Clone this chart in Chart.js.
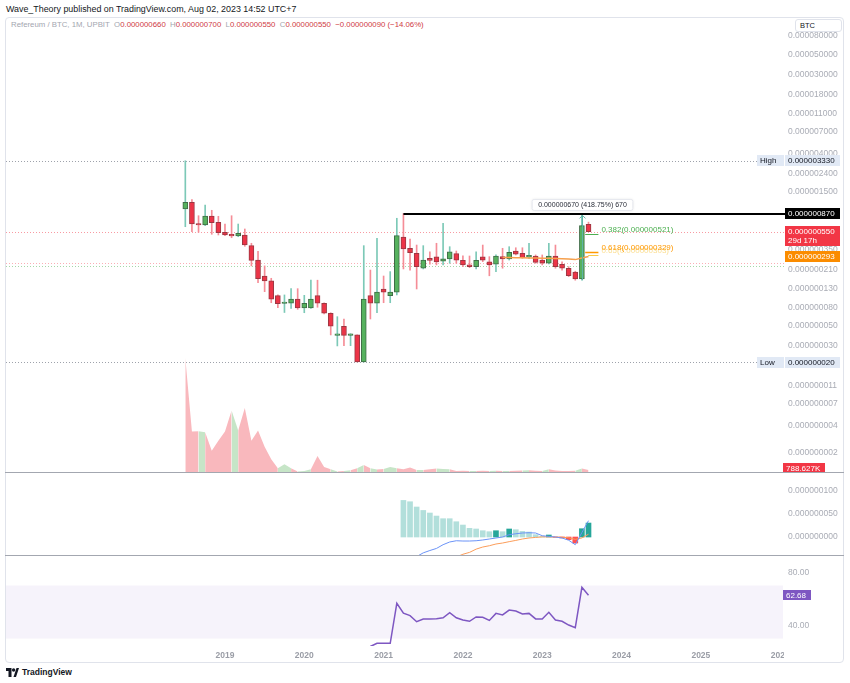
<!DOCTYPE html>
<html>
<head>
<meta charset="utf-8">
<title>Refereum / BTC, 1M</title>
<script src="https://cdn.jsdelivr.net/npm/chart.js@4.4.0/dist/chart.umd.min.js"></script>
<style>
  body { margin: 0; background: #fff; font-family: "Liberation Sans", Arial, sans-serif; }
  #wrap { position: relative; width: 850px; height: 683px; overflow: hidden; }
  #frame { position: absolute; left: 5px; top: 17px; width: 839px; height: 646px; border: 1px solid #e0e3eb; border-radius: 4px; box-sizing: border-box; }
  canvas { position: absolute; left: 0; }
  .sep { position: absolute; left: 5px; width: 839px; height: 1px; background: #a3a7b0; }
  #author { position: absolute; left: 6px; top: 4px; font-size: 8.9px; color: #131722; white-space: nowrap; }
  #legend { position: absolute; left: 11px; top: 20px; font-size: 7.8px; color: #a3a6af; white-space: nowrap; }
  #legend b { font-weight: normal; color: #cf3b44; }
  #unit { position: absolute; left: 795px; top: 19px; width: 47px; height: 13px; border: 1px solid #e0e3eb; border-radius: 3px; box-sizing: border-box; background: #fff; font-size: 7.5px; line-height: 11px; padding-left: 4px; color: #131722; }
  #brand { position: absolute; left: 6px; top: 667px; font-size: 8.5px; font-weight: bold; color: #131722; display: flex; align-items: center; gap: 3px; }
</style>
</head>
<body>
<div id="wrap">
  <div id="frame"></div>
  <div id="author">Wave_Theory published on TradingView.com, Aug 02, 2023 14:52 UTC+7</div>
  <div id="legend"></div>
  <canvas id="main" width="850" height="455" style="top:17px"></canvas>
  <canvas id="macd" width="850" height="83" style="top:472px"></canvas>
  <canvas id="rsi" width="850" height="107" style="top:555px"></canvas>
  <div class="sep" style="top:472px"></div>
  <div class="sep" style="top:555px"></div>
  <div id="unit">BTC</div>
  <div id="brand"><svg width="13" height="9" viewBox="0 0 13 9"><path d="M0 0h5.5v9H2.5V3H0z" fill="#131722"/><circle cx="7.6" cy="2" r="1.7" fill="#131722"/><path d="M7.5 9l3-9h2.5l-3 9z" fill="#131722"/></svg>TradingView</div>
</div>
<script>
// monthly candles Jul 2018 .. Aug 2023, prices in 1e-9 BTC
const opens = [977, 1159, 667, 651, 818, 697, 541, 514, 492, 505, 385, 267, 178, 157, 108, 88.5, 89, 99.2, 79, 79,
  108, 89, 69, 39.4, 49.6, 39.4, 39.8, 20, 108, 89, 128, 108, 118, 480, 360, 317, 217, 279, 289, 259,
  274, 314, 265, 237, 226, 289, 256, 240, 291, 274, 336, 317, 289, 296, 267, 246, 296, 240, 217, 197, 165, 660];
const highs = [3330, 1238, 824, 1082, 946, 812, 667, 824, 667, 588, 409, 334, 230, 168, 110, 110, 129, 129, 109, 160,
  160, 90.3, 70, 63.3, 59.7, 41, 40, 385, 207, 464, 178, 199, 772, 870, 456, 391, 385, 330, 409, 680,
  375, 336, 298, 296, 330, 391, 291, 304, 360, 375, 365, 365, 409, 304, 304, 409, 391, 256, 226, 201, 830, 700];
const lows = [623, 549, 541, 639, 514, 505, 496, 471, 483, 379, 230, 150, 119.5, 90.3, 79.6, 70.4, 78.3, 76.4, 70, 78,
  80.4, 67.8, 39.8, 30.1, 30.3, 30.3, 20, 20, 59.7, 70, 90.3, 90.3, 110, 213, 207, 128, 213, 240, 236, 236,
  246, 246, 226, 220, 213, 256, 179, 199, 217, 267, 304, 279, 279, 246, 236, 242, 217, 207, 175, 160, 160, 550];
const closes = [1159, 667, 651, 818, 690, 535, 505, 492, 527, 391, 265, 166, 157, 98.5, 88.1, 89.7, 99.2, 79, 89, 99.2,
  89, 69, 49.6, 39.9, 39.4, 39.8, 20, 99.2, 89, 118, 118, 118, 496, 354, 322, 226, 267, 265, 254, 276,
  330, 267, 236, 226, 265, 267, 236, 296, 274, 325, 311, 284, 296, 252, 246, 296, 226, 217, 179, 165, 640, 550];
// volume, thousands
const volumes = [45600, 16160, 16280, 15880, 8480, 12520, 16160, 24600, 16560, 25560, 12520, 16560, 10080, 5120, 1480, 3080, 1480, 200, 400, 1080,
  6440, 2000, 1080, 200, 400, 680, 1480, 2800, 1480, 960, 1200, 2000, 1480, 1080, 1760, 800, 800, 1080, 1360, 1200,
  1080, 400, 480, 400, 400, 520, 400, 480, 400, 400, 520, 600, 720, 480, 400, 1080, 600, 400, 400, 480, 1360, 788.627];

const maStart = 48;
const ma50 = [285, 284, 283, 283, 282, 281, 280, 279, 278, 276, 274, 270, 282, 293];

const macdStart = 33;
const macdLine = [-70, -55, -42, -34, -29, -24.5, -16.5, -10.7, -8, -8.6, -8.6, -8, -6.4, -4.3, -2.1, 0, 4.9, 7, 8.6, 9.2,
  8.6, 2.8, 1.3, 0, -2.1, -6.9, -16.5, 9.5, 35];
const macdSignal = [-148, -130, -106, -91, -80, -70, -56, -50, -43, -37, -33, -26, -21.5, -18.7, -15, -12.9, -10, -7.3, -4.3, -2.1,
  -0.9, 0.2, 0.2, 0, -0.4, -1.6, -5, -2, 6];
const macdHist = [78.5, 75.7, 64.4, 57, 51.5, 45, 39.3, 39.3, 32.8, 25.7, 18.6, 17.2, 13.5, 11.4, 13.5, 11.4, 17.2, 15.7, 12.1, 10.7,
  5, 1.4, 4.3, -0.7, -2, -5.7, -12.9, 17.8, 30];

const rsiStart = 27;
const rsi14 = [20, 24, 26.4, 26.4, 26.4, 56.6, 49.1, 47.3, 42.7, 44.8, 44.8, 45, 45.7, 49.5, 45.7, 44, 43, 46.3, 46, 43.7,
  49, 47.8, 51.5, 50.8, 48.5, 49, 44.8, 44.8, 49.8, 44, 43, 40.2, 38.2, 68.7, 62.68];

const priceTicks = [80000, 50000, 30000, 18000, 11000, 7000, 4000, 2400, 1500, 350, 210, 130, 80, 50, 30, 11, 7, 4, 2];
const macdTicks = [0, 50, 100];
const rsiTicks = [40, 80];
const years = [2019, 2020, 2021, 2022, 2023, 2024, 2025, 2026];

const highLevel = 3330, lowLevel = 20, lastLevel = 550, topLevel = 870, pinkLevel = 246, greenLevel = 228;
const fibNames = ['0.382', '0.618', '0.65'];
const fibPrices = [521, 329, 303];
const measureFrom = 160, measureTo = 830;

const N = opens.length;
const last = N - 1;
const xMin = -27.13, xMax = 90.73;
const FONT = '"Liberation Sans", Arial, sans-serif';
Chart.defaults.font.family = FONT;

const isUp = i => closes[i] >= opens[i];
const nano = v => (v * 1e-9).toFixed(9);

// legend line
const chg = closes[last] - closes[last - 1];
document.getElementById('legend').innerHTML =
  'Refereum / BTC, 1M, UPBIT&nbsp;&nbsp;O<b>' + nano(opens[last]) + '</b>&nbsp; H<b>' + nano(highs[last]) +
  '</b>&nbsp; L<b>' + nano(lows[last]) + '</b>&nbsp; C<b>' + nano(closes[last]) + '</b>&nbsp; <b>\u2212' +
  nano(Math.abs(chg)) + ' (\u2212' + (Math.abs(chg) / closes[last - 1] * 100).toFixed(2) + '%)</b>';

function hline(ctx, x1, x2, y, color, dash, w) {
  ctx.save();
  ctx.strokeStyle = color;
  ctx.lineWidth = w || 1;
  ctx.setLineDash(dash || []);
  ctx.beginPath();
  ctx.moveTo(x1, y);
  ctx.lineTo(x2, y);
  ctx.stroke();
  ctx.restore();
}

function tag(ctx, x, w, yc, h, bg, lines, fg) {
  ctx.save();
  ctx.fillStyle = bg;
  ctx.fillRect(x, Math.round(yc - h / 2), w, h);
  ctx.fillStyle = fg;
  ctx.font = '8px ' + FONT;
  ctx.textBaseline = 'middle';
  ctx.textAlign = 'left';
  lines.forEach((t, k) => ctx.fillText(t, x + 3, Math.round(yc - h / 2) + 5.5 + k * 9));
  ctx.restore();
}

const px = v => Math.round(v) + 0.5;

const xAxis = {
  type: 'linear', min: xMin, max: xMax, bounds: 'data', offset: false, display: false,
  grid: { display: false, offset: false }
};

function rightAxis(extra) {
  return Object.assign({
    position: 'right', bounds: 'data',
    grid: { display: false, drawTicks: false },
    border: { display: false },
    afterFit: s => { s.width = 65; s.paddingTop = 0; s.paddingBottom = 0; },
  }, extra);
}

const baseOpts = {
  responsive: false, animation: false, devicePixelRatio: 1, events: [],
  layout: { padding: { left: 6, right: 0, top: 0, bottom: 0 } },
  plugins: { legend: { display: false }, tooltip: { enabled: false } }
};

// main pane overlays
const mainOverlay = {
  id: 'mainOverlay',
  beforeDatasetsDraw(chart) {
    const { ctx, chartArea: a, scales: { y } } = chart;
    hline(ctx, a.left, 757, px(y.getPixelForValue(highLevel)), '#9ea2ab', [1, 2]);
    hline(ctx, a.left, 757, px(y.getPixelForValue(lowLevel)), '#9ea2ab', [1, 2]);
    hline(ctx, a.left, a.right, px(y.getPixelForValue(lastLevel)), 'rgba(242,54,69,0.5)', [1, 2]);
    hline(ctx, a.left, a.right, px(y.getPixelForValue(pinkLevel)), 'rgba(242,54,69,0.4)', [1, 2]);
    hline(ctx, a.left, a.right, px(y.getPixelForValue(greenLevel)), 'rgba(76,175,80,0.5)', [1, 2]);
  },
  afterDatasetsDraw(chart) {
    const { ctx, chartArea: a, scales: { x, y } } = chart;
    // resistance line
    hline(ctx, x.getPixelForValue(33), a.right, Math.round(y.getPixelForValue(topLevel)), '#000', [], 2);
    // fib levels
    const fibColors = ['#4caf50', '#ff9800', '#f9c846'];
    const x1 = x.getPixelForValue(last - 0.5), x2 = x.getPixelForValue(last + 1.5);
    ctx.save();
    ctx.font = '8px ' + FONT;
    ctx.textBaseline = 'bottom';
    [2, 1, 0].forEach(k => {
      const yy = px(y.getPixelForValue(fibPrices[k]));
      hline(ctx, k === 2 ? x1 + 3 : x1, x2, yy, fibColors[k], [], k === 1 ? 1.5 : 1);
      ctx.fillStyle = k === 2 ? 'rgba(249,200,70,0.6)' : fibColors[k];
      ctx.fillText(fibNames[k] + '(' + nano(fibPrices[k]) + ')', x2 + 3, yy - 1);
    });
    ctx.restore();
    // measure arrow
    const mx = px(x.getPixelForValue(last - 1));
    const yTop = y.getPixelForValue(measureTo), yBot = y.getPixelForValue(measureFrom);
    ctx.save();
    ctx.strokeStyle = '#5fb3a6';
    ctx.lineWidth = 1;
    ctx.beginPath();
    ctx.moveTo(mx, yBot);
    ctx.lineTo(mx, yTop);
    ctx.moveTo(mx - 3, yTop + 3);
    ctx.lineTo(mx, yTop);
    ctx.lineTo(mx + 3, yTop + 3);
    ctx.stroke();
    const d = measureTo - measureFrom;
    const label = nano(d) + ' (' + (d / measureFrom * 100).toFixed(2) + '%) ' + d;
    ctx.font = '7px ' + FONT;
    const w = ctx.measureText(label).width + 12;
    const by = yTop - 16;
    ctx.shadowColor = 'rgba(0,0,0,0.12)';
    ctx.shadowBlur = 3;
    ctx.fillStyle = '#fff';
    ctx.beginPath();
    ctx.roundRect(mx - w / 2, by, w, 11, 2);
    ctx.fill();
    ctx.shadowBlur = 0;
    ctx.strokeStyle = '#e6e8ee';
    ctx.stroke();
    ctx.fillStyle = '#2a2e39';
    ctx.textAlign = 'center';
    ctx.textBaseline = 'middle';
    ctx.fillText(label, mx, by + 5.5);
    ctx.restore();
  },
  afterDraw(chart) {
    const { ctx, chartArea: a, scales: { y, yv } } = chart;
    const yh = y.getPixelForValue(highLevel), yl = y.getPixelForValue(lowLevel);
    tag(ctx, 757, 27, yh, 11, '#e1e9f5', ['High'], '#131722');
    tag(ctx, 785, 55, yh, 11, '#e1e9f5', [nano(highLevel)], '#131722');
    tag(ctx, 757, 27, yl, 11, '#e1e9f5', ['Low'], '#131722');
    tag(ctx, 785, 55, yl, 11, '#e1e9f5', [nano(lowLevel)], '#131722');
    tag(ctx, 785, 55, y.getPixelForValue(topLevel), 11, '#000', [nano(topLevel)], '#fff');
    const yp = y.getPixelForValue(lastLevel);
    tag(ctx, 785, 55, yp + 4.5, 20, '#f23645', [nano(closes[last]), '29d 17h'], '#fff');
    tag(ctx, 785, 55, y.getPixelForValue(ma50[ma50.length - 1]), 11, '#fb8c00', [nano(ma50[ma50.length - 1])], '#fff');
    const vy = Math.min(yv.getPixelForValue(volumes[last]), a.bottom - 4);
    tag(ctx, 783, 42, vy, 11, '#f23645', [(volumes[last]).toFixed(3) + 'K'], '#fff');
  }
};

new Chart(document.getElementById('main'), {
  type: 'bar',
  data: {
    datasets: [
      {
        type: 'line', yAxisID: 'yv', order: 5,
        data: volumes.map((v, i) => ({ x: i, y: v })),
        fill: 'origin', borderWidth: 0, pointRadius: 0, tension: 0,
        backgroundColor: '#f9b8bd',
        segment: { backgroundColor: c => isUp(c.p1DataIndex) ? '#c6e5c7' : '#f9b8bd' }
      },
      {
        yAxisID: 'y', order: 3, grouped: false, barThickness: 1,
        data: opens.map((o, i) => ({ x: i, y: [lows[i], highs[i]] })),
        backgroundColor: c => isUp(c.dataIndex) ? '#7cc9b7' : '#f58d97'
      },
      {
        yAxisID: 'y', order: 2, grouped: false, barThickness: 5, minBarLength: 1.5,
        data: opens.map((o, i) => ({ x: i, y: [o, closes[i]] })),
        backgroundColor: c => isUp(c.dataIndex) ? '#56b25e' : '#ec3447',
        borderColor: c => isUp(c.dataIndex) ? '#3f6c47' : '#9a3843',
        borderWidth: 1, borderSkipped: false
      },
      {
        type: 'line', yAxisID: 'y', order: 1,
        data: ma50.map((v, k) => ({ x: maStart + k, y: v })),
        borderColor: '#f6a04d', borderWidth: 1.5, pointRadius: 0
      }
    ]
  },
  options: Object.assign({}, baseOpts, {
    scales: {
      x: xAxis,
      y: rightAxis({
        type: 'logarithmic', min: 1.222, max: 128600,
        afterBuildTicks: s => { s.ticks = priceTicks.map(v => ({ value: v })); },
        ticks: { autoSkip: false, padding: 3, color: '#a9acb5', font: { size: 8.5 }, callback: v => nano(v) }
      }),
      yv: { type: 'linear', display: false, min: 0, max: 182000 }
    }
  }),
  plugins: [mainOverlay]
});

// MACD pane
new Chart(document.getElementById('macd'), {
  type: 'bar',
  data: {
    datasets: [
      {
        type: 'line', order: 1, data: macdLine.map((v, k) => ({ x: macdStart + k, y: v })),
        borderColor: '#6b93f7', borderWidth: 1, pointRadius: 0
      },
      {
        type: 'line', order: 2, data: macdSignal.map((v, k) => ({ x: macdStart + k, y: v })),
        borderColor: '#fb9d5a', borderWidth: 1, pointRadius: 0
      },
      {
        order: 3, barThickness: 5, grouped: false,
        data: macdHist.map((v, k) => ({ x: macdStart + k, y: v })),
        backgroundColor: c => {
          const k = c.dataIndex, v = macdHist[k], p = k > 0 ? macdHist[k - 1] : v;
          if (v >= 0) return v > p ? '#26a69a' : '#b2dfdb';
          return v < p ? '#ff5252' : '#ffcdd2';
        }
      }
    ]
  },
  options: Object.assign({}, baseOpts, {
    scales: {
      x: xAxis,
      y: rightAxis({
        type: 'linear', min: -38.6, max: 139.5,
        afterBuildTicks: s => { s.ticks = macdTicks.map(v => ({ value: v })); },
        ticks: { autoSkip: false, padding: 3, color: '#a9acb5', font: { size: 8.5 }, callback: v => nano(v) }
      })
    }
  })
});

// RSI pane with time axis
const rsiOverlay = {
  id: 'rsiOverlay',
  beforeDatasetsDraw(chart) {
    const { ctx, chartArea: a, scales: { y } } = chart;
    const t = y.getPixelForValue(70), b = y.getPixelForValue(30);
    ctx.save();
    ctx.fillStyle = 'rgba(126,87,194,0.07)';
    ctx.fillRect(a.left, t, a.right - a.left - 2, b - t);
    ctx.restore();
  },
  afterDraw(chart) {
    const { ctx, chartArea: a, scales: { y } } = chart;
    ctx.clearRect(784, a.bottom + 1, 57, 15);
    tag(ctx, 783, 28, y.getPixelForValue(rsi14[rsi14.length - 1]), 10, '#7e57c2', [rsi14[rsi14.length - 1].toFixed(2)], '#fff');
  }
};

new Chart(document.getElementById('rsi'), {
  type: 'line',
  data: {
    datasets: [{
      data: rsi14.map((v, k) => ({ x: rsiStart + k, y: v })),
      borderColor: '#7e57c2', borderWidth: 1.5, pointRadius: 0
    }]
  },
  options: Object.assign({}, baseOpts, {
    scales: {
      x: {
        type: 'linear', min: xMin, max: xMax, bounds: 'data', offset: false,
        grid: { display: false, drawTicks: false }, border: { display: false },
        afterFit: s => { s.height = 16; s.paddingLeft = 0; s.paddingRight = 0; },
        afterBuildTicks: s => { s.ticks = years.map(yr => ({ value: (yr - 2018) * 12 - 6 })); },
        ticks: {
          autoSkip: false, maxRotation: 0, padding: 5, color: '#9a9da6',
          font: { size: 8.5, weight: 'bold' }, callback: v => String(2018 + (v + 6) / 12)
        }
      },
      y: rightAxis({
        type: 'linear', min: 24.38, max: 93.06,
        afterBuildTicks: s => { s.ticks = rsiTicks.map(v => ({ value: v })); },
        ticks: { autoSkip: false, padding: 3, color: '#a9acb5', font: { size: 8.5 }, callback: v => v.toFixed(2) }
      })
    }
  }),
  plugins: [rsiOverlay]
});
</script>
</body>
</html>
